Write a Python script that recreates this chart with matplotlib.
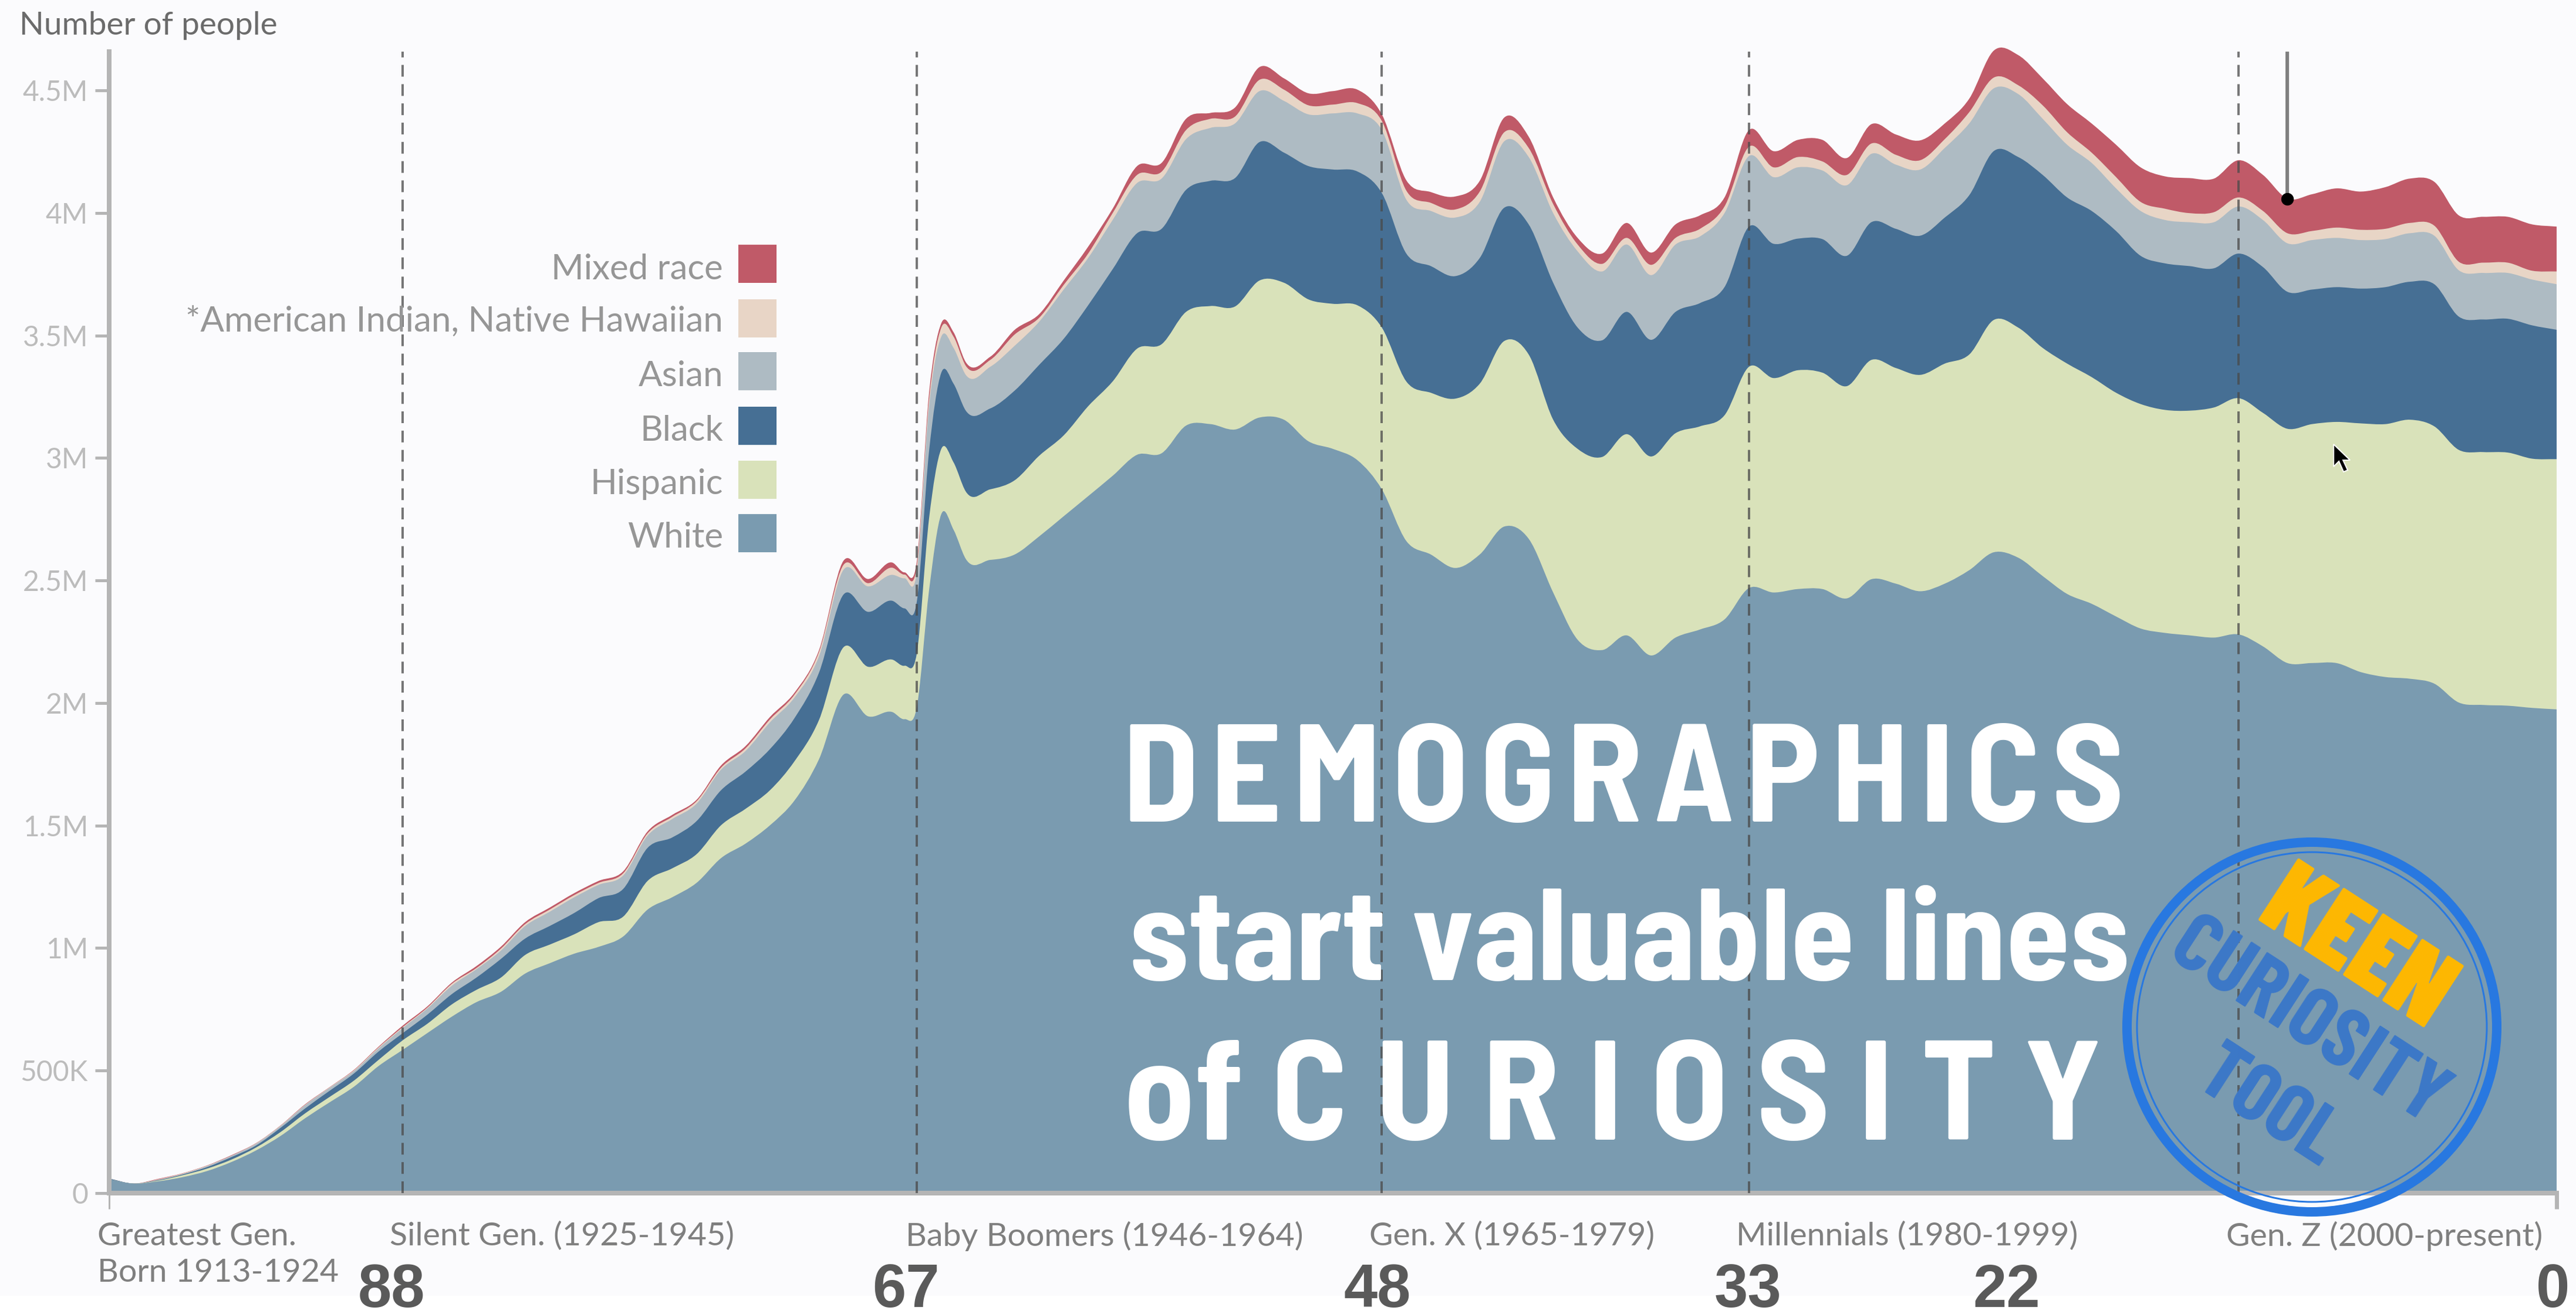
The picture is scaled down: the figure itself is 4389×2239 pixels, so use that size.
import numpy as np
import matplotlib
matplotlib.use("Agg")
import matplotlib.pyplot as plt
from matplotlib.patches import Rectangle, Circle, Polygon, PathPatch
from matplotlib.path import Path
from matplotlib.transforms import IdentityTransform

W_PX, H_PX = 4389, 2239

# ages run from 100 down to 0, with half years around the jump at 67
ages = list(range(100, 67, -1)) + [67.5, 67, 66.5, 66, 65.5, 65] + list(range(64, -1, -1))

# top of each band, millions of people
white_top = [.056, .039, .048, .065, .090, .127, .174, .233, .305, .370,
             .434, .518, .585, .653, .720, .779, .821, .896, .938, .977,
             1.005, 1.047, 1.157, 1.207, 1.266, 1.367, 1.426, 1.501, 1.602, 1.770,
             2.034, 1.946, 1.963,
             1.934, 1.983, 2.460, 2.771, 2.707, 2.588,
             2.584, 2.606, 2.680, 2.762, 2.844, 2.927, 3.013, 3.019, 3.132, 3.138,
             3.116, 3.165, 3.156, 3.068, 3.037, 2.991, 2.872, 2.661, 2.606, 2.551,
             2.606, 2.720, 2.670, 2.451, 2.258, 2.216, 2.276, 2.194, 2.267, 2.300,
             2.341, 2.469, 2.451, 2.465, 2.465, 2.427, 2.505, 2.487, 2.456, 2.487,
             2.542, 2.615, 2.593, 2.518, 2.445, 2.405, 2.353, 2.304, 2.286, 2.276,
             2.267, 2.280, 2.231, 2.163, 2.163, 2.163, 2.126, 2.106, 2.099, 2.079,
             2.002, 1.992, 1.989, 1.980, 1.974]
hispanic_top = [.056, .039, .051, .073, .100, .137, .186, .249, .325, .392,
                .459, .543, .624, .691, .770, .829, .879, .972, 1.014, 1.056,
                1.106, 1.128, 1.274, 1.325, 1.383, 1.501, 1.568, 1.644, 1.762, 1.930,
                2.227, 2.148, 2.177,
                2.152, 2.203, 2.753, 3.037, 2.982, 2.863,
                2.872, 2.909, 3.009, 3.092, 3.211, 3.312, 3.446, 3.464, 3.596, 3.620,
                3.618, 3.724, 3.715, 3.647, 3.629, 3.623, 3.532, 3.312, 3.266, 3.242,
                3.303, 3.477, 3.422, 3.156, 3.037, 3.004, 3.097, 3.006, 3.101, 3.129,
                3.174, 3.372, 3.326, 3.358, 3.348, 3.293, 3.400, 3.367, 3.339, 3.385,
                3.422, 3.563, 3.532, 3.449, 3.385, 3.330, 3.266, 3.220, 3.196, 3.193,
                3.206, 3.244, 3.184, 3.119, 3.138, 3.147, 3.141, 3.138, 3.156, 3.129,
                3.033, 3.024, 3.022, 2.997, 2.995]
black_top = [.059, .039, .053, .076, .106, .147, .194, .266, .345, .417,
             .488, .577, .653, .728, .812, .879, .955, 1.039, 1.090, 1.143,
             1.204, 1.241, 1.409, 1.451, 1.518, 1.644, 1.720, 1.812, 1.938, 2.123,
             2.442, 2.372, 2.417,
             2.386, 2.414, 3.028, 3.348, 3.303, 3.193,
             3.202, 3.275, 3.380, 3.486, 3.623, 3.770, 3.917, 3.935, 4.094, 4.131,
             4.142, 4.289, 4.246, 4.191, 4.177, 4.169, 4.081, 3.834, 3.783, 3.742,
             3.816, 4.021, 3.953, 3.715, 3.532, 3.480, 3.596, 3.482, 3.596, 3.632,
             3.697, 3.944, 3.874, 3.895, 3.893, 3.825, 3.962, 3.935, 3.907, 3.981,
             4.072, 4.252, 4.228, 4.155, 4.063, 4.008, 3.926, 3.825, 3.794, 3.783,
             3.774, 3.834, 3.779, 3.678, 3.687, 3.697, 3.691, 3.697, 3.719, 3.709,
             3.577, 3.565, 3.568, 3.541, 3.523]
asian_top = [.059, .039, .054, .078, .110, .152, .201, .273, .358, .429,
             .498, .590, .674, .753, .846, .913, .989, 1.090, 1.148, 1.207,
             1.258, 1.296, 1.459, 1.526, 1.589, 1.728, 1.804, 1.921, 2.022, 2.190,
             2.543, 2.476, 2.523,
             2.509, 2.533, 3.211, 3.495, 3.449, 3.339,
             3.372, 3.458, 3.556, 3.687, 3.816, 3.971, 4.122, 4.140, 4.301, 4.347,
             4.365, 4.497, 4.457, 4.402, 4.406, 4.406, 4.338, 4.054, 4.008, 3.981,
             4.045, 4.292, 4.228, 3.999, 3.843, 3.761, 3.871, 3.746, 3.871, 3.904,
             3.999, 4.232, 4.146, 4.186, 4.173, 4.113, 4.241, 4.197, 4.177, 4.265,
             4.365, 4.508, 4.485, 4.384, 4.278, 4.204, 4.100, 4.008, 3.971, 3.962,
             3.962, 4.026, 3.971, 3.876, 3.889, 3.898, 3.889, 3.893, 3.917, 3.907,
             3.766, 3.755, 3.755, 3.728, 3.709]
native_top = [.059, .039, .056, .080, .112, .153, .203, .275, .360, .431,
              .501, .594, .678, .757, .854, .918, .997, 1.098, 1.157, 1.216,
              1.266, 1.305, 1.468, 1.535, 1.599, 1.736, 1.815, 1.933, 2.034, 2.207,
              2.563, 2.489, 2.552,
              2.524, 2.560, 3.238, 3.532, 3.495, 3.376,
              3.400, 3.504, 3.572, 3.706, 3.834, 3.999, 4.155, 4.168, 4.338, 4.384,
              4.393, 4.543, 4.503, 4.439, 4.442, 4.448, 4.375, 4.091, 4.041, 4.014,
              4.087, 4.329, 4.265, 4.036, 3.871, 3.792, 3.898, 3.788, 3.898, 3.935,
              4.026, 4.270, 4.186, 4.228, 4.210, 4.155, 4.283, 4.237, 4.215, 4.301,
              4.411, 4.552, 4.521, 4.439, 4.329, 4.246, 4.146, 4.045, 4.017, 3.999,
              4.003, 4.063, 4.008, 3.917, 3.926, 3.940, 3.931, 3.935, 3.959, 3.948,
              3.801, 3.797, 3.797, 3.764, 3.761]
mixed_top = [.059, .039, .058, .081, .113, .155, .204, .276, .362, .432,
             .503, .597, .684, .762, .859, .926, 1.005, 1.106, 1.165, 1.224,
             1.274, 1.313, 1.476, 1.543, 1.605, 1.745, 1.824, 1.943, 2.042, 2.215,
             2.580, 2.506, 2.573,
             2.533, 2.579, 3.266, 3.550, 3.513, 3.391,
             3.413, 3.523, 3.587, 3.724, 3.862, 4.017, 4.191, 4.204, 4.384, 4.408,
             4.430, 4.595, 4.549, 4.488, 4.497, 4.503, 4.402, 4.133, 4.085, 4.067,
             4.131, 4.389, 4.311, 4.063, 3.898, 3.834, 3.959, 3.838, 3.953, 3.990,
             4.063, 4.338, 4.252, 4.298, 4.298, 4.224, 4.362, 4.320, 4.296, 4.365,
             4.466, 4.662, 4.644, 4.549, 4.444, 4.365, 4.278, 4.186, 4.149, 4.142,
             4.140, 4.215, 4.155, 4.058, 4.076, 4.100, 4.087, 4.105, 4.140, 4.127,
             3.990, 3.984, 3.984, 3.953, 3.944]

race_labels = ["White", "Hispanic", "Black", "Asian", "*American Indian, Native Hawaiian", "Mixed race"]
race_colors = ["#7a9bb0", "#d9e2ba", "#466f94", "#aebbc3", "#e8d5c6", "#c05a68"]

y_ticks = [0, .5, 1, 1.5, 2, 2.5, 3, 3.5, 4, 4.5]
y_tick_labels = ["0", "500K", "1M", "1.5M", "2M", "2.5M", "3M", "3.5M", "4M", "4.5M"]
generation_ages = [88, 67, 48, 33, 13]
hover_age = 11
hover_value = 4.058

GRAY = "#b5b5b5"
LATO = ["Lato", "DejaVu Sans"]
TITLE_FONT = ["Barlow Semi Condensed", "Liberation Sans"]
STAMP_FONT = ["Barlow Condensed", "Liberation Sans"]


def pt(px):
    return px * 0.72


def band_path(x, y):
    # area under one band top, with bezier segments through the read values
    x = np.asarray(x, float)
    y = np.asarray(y, float)
    slope = np.gradient(y, x)
    verts = [(x[0], 0), (x[0], y[0])]
    codes = [Path.MOVETO, Path.LINETO]
    for i in range(len(x) - 1):
        h = x[i + 1] - x[i]
        verts += [(x[i] + h / 3, y[i] + slope[i] * h / 3),
                  (x[i + 1] - h / 3, y[i + 1] - slope[i + 1] * h / 3),
                  (x[i + 1], y[i + 1])]
        codes += [Path.CURVE4] * 3
    verts += [(x[-1], 0), (x[0], 0)]
    codes += [Path.LINETO, Path.CLOSEPOLY]
    return Path(verts, codes)


def main():
    fig = plt.figure(figsize=(W_PX / 100, H_PX / 100), dpi=100, facecolor="white")
    pixels = IdentityTransform()

    def put(x, y, s, **kw):
        fig.text(x / W_PX, 1 - y / H_PX, s, **kw)

    fig.add_artist(Rectangle((0, 1 - 2208 / H_PX), 1, 2208 / H_PX, transform=fig.transFigure,
                             color="#fbfbfd", lw=0, zorder=-10))

    ax = fig.add_axes([186 / W_PX, 1 - 2033 / H_PX, (4356 - 186) / W_PX, (2033 - 88) / H_PX])
    ax.patch.set_alpha(0)
    ax.set_xlim(100, 0)
    ax.set_ylim(0, 4.658)

    # bands are painted from the outermost in, so no seams show
    tops = [white_top, hispanic_top, black_top, asian_top, native_top, mixed_top]
    for i in range(5, -1, -1):
        ax.add_patch(PathPatch(band_path(ages, tops[i]), facecolor=race_colors[i], lw=0,
                               clip_on=False, zorder=2 + (5 - i) * 0.01))

    # axes
    for side in ["top", "right"]:
        ax.spines[side].set_visible(False)
    for side in ["left", "bottom"]:
        ax.spines[side].set_color(GRAY)
        ax.spines[side].set_linewidth(pt(8))
        ax.spines[side].set_zorder(3)
    ax.set_xticks([])
    ax.set_yticks(y_ticks, y_tick_labels, family=LATO, fontsize=pt(48), color="#bcbcbc")
    ax.tick_params(axis="y", length=pt(24), width=pt(5), color=GRAY, pad=pt(12))
    ax.vlines(100, -0.065, 0, color=GRAY, lw=pt(3), clip_on=False, zorder=3)
    ax.vlines(0, -0.065, 0, color=GRAY, lw=pt(7), clip_on=False, zorder=3)

    # generation markers
    for age in generation_ages:
        ax.plot([age, age], [0, 4.658], color="#4a4a4a", alpha=0.75, lw=pt(4),
                dashes=(5, 3.2), zorder=4)
    ax.plot([hover_age, hover_age], [hover_value, 4.658], color="#808080", lw=pt(6), zorder=5)
    ax.plot([hover_age], [hover_value], "o", color="black", ms=pt(20), zorder=6)

    put(33, 44, "Number of people", family=LATO, fontsize=pt(55), color="#6b6b6b", va="center")

    # legend
    swatch_tops = [876, 785, 693, 600, 510, 417]
    label_ys = [916, 825, 734, 641, 548, 459]
    for label, color, top, ly in zip(race_labels, race_colors, swatch_tops, label_ys):
        fig.add_artist(Rectangle((1258, H_PX - top - 65), 65, 65, transform=pixels,
                                 facecolor=color, lw=0, zorder=3))
        put(1232, ly, label, family=LATO, fontsize=pt(60), color="#969696", ha="right", va="center")

    # x labels
    gen_labels = [(166, 2106, "Greatest Gen."), (166, 2168, "Born 1913-1924"),
                  (664, 2106, "Silent Gen. (1925-1945)"), (1543, 2106, "Baby Boomers (1946-1964)"),
                  (2333, 2106, "Gen. X (1965-1979)"), (2958, 2106, "Millennials (1980-1999)"),
                  (3793, 2106, "Gen. Z (2000-present)")]
    for x, y, s in gen_labels:
        put(x, y, s, family=LATO, fontsize=pt(55.5), color="#7f7f7f", va="center")

    age_marks = [(667, "88"), (1543, "67"), (2347, "48"), (2978, "33"), (3419, "22"), (4350, "0")]
    for x, s in age_marks:
        put(x, 2227, s, family="Liberation Sans", weight="bold", fontsize=pt(103),
            color="#5a5a5a", ha="center", va="baseline")

    # big white title
    put(2766, 1400, "D\u200aE\u200aM\u200aO\u200aG\u200aR\u200aA\u200aP\u200aH\u200aI\u200aC\u200aS",
        family=TITLE_FONT, weight="bold", fontsize=pt(237), color="white", ha="center", va="baseline", zorder=7)
    put(2776, 1670, "start valuable lines", family=TITLE_FONT, weight="bold", fontsize=pt(222),
        color="white", ha="center", va="baseline", zorder=7)
    put(2748, 1942, "of C U R I O S I T Y", family=TITLE_FONT, weight="bold", fontsize=pt(241),
        color="white", ha="center", va="baseline", zorder=7)

    # stamp
    blue = "#2878e0"
    cx, cy = 3939, H_PX - 1750
    fig.add_artist(Circle((cx, cy), 315, transform=pixels, fill=False, ec=blue, lw=pt(16), zorder=8))
    fig.add_artist(Circle((cx, cy), 298, transform=pixels, fill=False, ec=blue, lw=pt(3), zorder=8))
    stamp = [(4013, 1622, "KEEN", "#ffb800", 180, 900), (3932, 1745, "CURIOSITY", "#3c78c8", 142, 700),
             (3864, 1890, "TOOL", "#3c78c8", 140, 700)]
    for x, y, s, color, size, weight in stamp:
        put(x, y, s, family=STAMP_FONT, weight=weight, fontsize=pt(size), color=color, rotation=-33,
            rotation_mode="anchor", ha="center", va="center", zorder=9)

    # mouse pointer
    tip_x, tip_y = 3976, H_PX - 757
    arrow = [(0, 0), (0, -38), (9, -29), (17, -47), (24, -44), (16, -27), (28, -27)]
    fig.add_artist(Polygon([(tip_x + a, tip_y + b) for a, b in arrow], transform=pixels,
                           facecolor="black", edgecolor="white", lw=pt(2), zorder=9))

    fig.savefig("out.png", dpi=100, facecolor="white")


if __name__ == "__main__":
    main()
